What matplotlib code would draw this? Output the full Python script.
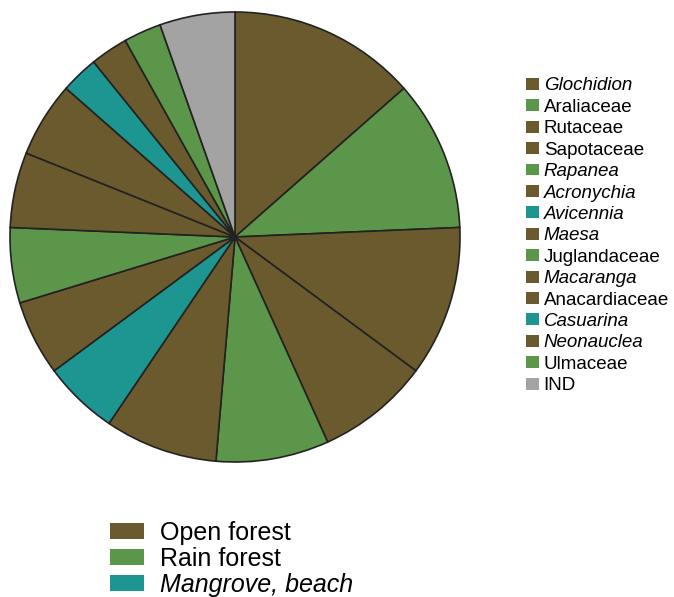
import matplotlib
matplotlib.use("Agg")
import matplotlib.pyplot as plt
from matplotlib.patches import Patch

plt.rcParams['font.family'] = ['Liberation Sans', 'DejaVu Sans']

# Data (clockwise from 12 o'clock)
taxa = ["Glochidion", "Araliaceae", "Rutaceae", "Sapotaceae", "Rapanea",
        "Acronychia", "Avicennia", "Maesa", "Juglandaceae", "Macaranga",
        "Anacardiaceae", "Casuarina", "Neonauclea", "Ulmaceae", "IND"]
counts = [5, 4, 4, 3, 3, 3, 2, 2, 2, 2, 2, 1, 1, 1, 2]
habitat = ["Open forest", "Rain forest", "Open forest", "Open forest", "Rain forest",
           "Open forest", "Mangrove, beach", "Open forest", "Rain forest", "Open forest",
           "Open forest", "Mangrove, beach", "Open forest", "Rain forest", "IND"]
italic_taxa = {"Glochidion", "Rapanea", "Acronychia", "Avicennia", "Maesa",
               "Macaranga", "Casuarina", "Neonauclea"}
habitat_names = ["Open forest", "Rain forest", "Mangrove, beach"]

colors = {"Open forest": "#6B5A2D", "Rain forest": "#5B964A",
          "Mangrove, beach": "#1D9590", "IND": "#A3A3A3"}
slice_colors = [colors[h] for h in habitat]

W, H = 674, 597
fig = plt.figure(figsize=(W / 100, H / 100), dpi=100)

cx, cy, r = 235, 237, 225
pad = 4
ax = fig.add_axes([(cx - r - pad) / W, (H - cy - r - pad) / H,
                   (2 * r + 2 * pad) / W, (2 * r + 2 * pad) / H])
ax.pie(counts, colors=slice_colors, startangle=90, counterclock=False,
       wedgeprops=dict(edgecolor="#222222", linewidth=1.2))
lim = 1 + pad / r
ax.set_xlim(-lim, lim)
ax.set_ylim(-lim, lim)
ax.set_aspect("equal")
ax.axis("off")

# Right legend (taxa)
handles = [Patch(facecolor=c, edgecolor="none") for c in slice_colors]
leg = fig.legend(handles, taxa, loc="upper left",
                 bbox_to_anchor=(526 / W, 1 - 77.5 / H), frameon=False,
                 fontsize=13.5, handlelength=0.7, handleheight=0.6,
                 handletextpad=0.24, labelspacing=0.235, borderpad=0,
                 borderaxespad=0)
for t in leg.get_texts():
    if t.get_text() in italic_taxa:
        t.set_fontstyle("italic")

# Bottom legend (habitat)
h2 = [Patch(facecolor=colors[h], edgecolor="none") for h in habitat_names]
leg2 = fig.legend(h2, habitat_names, loc="upper left",
                  bbox_to_anchor=(110 / W, 1 - 521 / H), frameon=False,
                  fontsize=18, handlelength=1.36, handleheight=0.6,
                  handletextpad=0.62, labelspacing=0.08, borderpad=0,
                  borderaxespad=0)
for t in leg2.get_texts():
    if t.get_text() == "Mangrove, beach":
        t.set_fontstyle("italic")

fig.savefig("out.png", dpi=100)
